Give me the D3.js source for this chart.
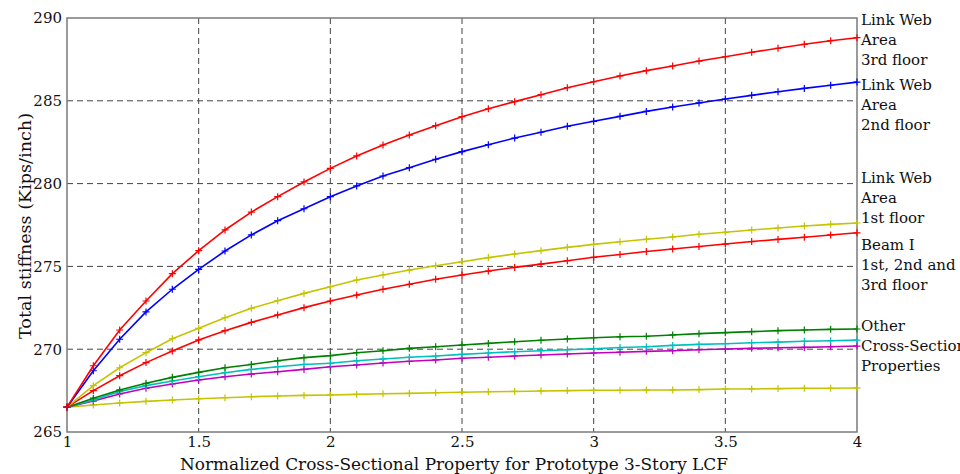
<!DOCTYPE html>
<html><head><meta charset="utf-8">
<script src="https://cdn.jsdelivr.net/npm/d3@7"></script>
<style>body{margin:0;background:#fff;overflow:hidden}svg{display:block}</style>
</head><body><svg id="c" width="960" height="474"></svg>
<script>
const xValues = [1,1.1,1.2,1.3,1.4,1.5,1.6,1.7,1.8,1.9,2,2.1,2.2,2.3,2.4,2.5,2.6,2.7,2.8,2.9,3,3.1,3.2,3.3,3.4,3.5,3.6,3.7,3.8,3.9,4];
const linkWeb3 = [266.5,269.0,271.16,272.91,274.56,275.95,277.2,278.28,279.21,280.1,280.92,281.67,282.33,282.93,283.5,284.04,284.52,284.95,285.37,285.79,286.15,286.5,286.82,287.1,287.4,287.66,287.93,288.17,288.41,288.63,288.81];
const linkWeb2 = [266.5,268.7,270.6,272.25,273.62,274.82,275.93,276.9,277.76,278.48,279.21,279.86,280.46,280.96,281.47,281.93,282.35,282.75,283.1,283.46,283.76,284.06,284.36,284.63,284.87,285.11,285.33,285.55,285.75,285.94,286.13];
const linkWeb1 = [266.5,267.8,268.88,269.79,270.63,271.26,271.9,272.47,272.93,273.37,273.77,274.18,274.48,274.78,275.04,275.28,275.53,275.75,275.95,276.15,276.33,276.49,276.64,276.78,276.94,277.06,277.2,277.32,277.44,277.54,277.62];
const beamI = [266.5,267.5,268.4,269.19,269.89,270.56,271.12,271.62,272.07,272.51,272.91,273.27,273.62,273.92,274.22,274.48,274.72,274.94,275.14,275.34,275.55,275.72,275.9,276.05,276.2,276.35,276.5,276.63,276.76,276.9,277.03];
const otherGreen = [266.5,267.04,267.54,267.94,268.3,268.6,268.88,269.08,269.3,269.49,269.61,269.79,269.91,270.05,270.15,270.25,270.35,270.45,270.54,270.62,270.69,270.75,270.78,270.86,270.94,271.0,271.06,271.12,271.16,271.2,271.22];
const otherCyan = [266.5,266.93,267.44,267.8,268.08,268.34,268.58,268.78,268.94,269.08,269.15,269.3,269.41,269.51,269.59,269.69,269.77,269.85,269.91,269.97,270.03,270.1,270.15,270.23,270.29,270.33,270.39,270.43,270.48,270.51,270.55];
const otherMagenta = [266.5,266.87,267.3,267.64,267.9,268.14,268.34,268.5,268.64,268.78,268.94,269.05,269.17,269.27,269.35,269.45,269.51,269.59,269.65,269.71,269.77,269.82,269.87,269.91,269.97,270.01,270.05,270.09,270.11,270.15,270.19];
const otherYellow = [266.5,266.63,266.75,266.85,266.93,267.01,267.07,267.13,267.17,267.21,267.23,267.27,267.31,267.33,267.37,267.4,267.43,267.45,267.48,267.5,267.52,267.52,267.54,267.54,267.56,267.6,267.6,267.62,267.64,267.64,267.66];

const seriesNames = ["otherYellow","otherMagenta","otherCyan","otherGreen","beamI","linkWeb1","linkWeb2","linkWeb3"];
const seriesValues = [otherYellow,otherMagenta,otherCyan,otherGreen,beamI,linkWeb1,linkWeb2,linkWeb3];
const seriesColors = ["#c4c400","#bf00bf","#00bfbf","#008000","#ff0000","#c4c400","#0000ff","#ff0000"];

const xTicks = [1,1.5,2,2.5,3,3.5,4];
const xTickLabels = ["1","1.5","2","2.5","3","3.5","4"];
const yTicks = [265,270,275,280,285,290];
const yTickLabels = ["265","270","275","280","285","290"];

const annotations = [
  {lines:["Link Web","Area","3rd floor"], y:25},
  {lines:["Link Web","Area","2nd floor"], y:90},
  {lines:["Link Web","Area","1st floor"], y:183},
  {lines:["Beam I","1st, 2nd and","3rd floor"], y:250},
  {lines:["Other","Cross-Sectional","Properties"], y:331}
];

const xLabel = "Normalized Cross-Sectional Property for Prototype 3-Story LCF";
const yLabel = "Total stiffness (Kips/inch)";

const svg = d3.select("#c");
const L = 67, R = 857, T = 18, B = 432;
const x = d3.scaleLinear().domain([1,4]).range([L,R]);
const y = d3.scaleLinear().domain([265,290]).range([B,T]);
const font = "'DejaVu Serif', serif";

// grid
const g = svg.append("g");
g.selectAll(".vg").data(xTicks.slice(1,-1)).join("line")
  .attr("x1",d=>x(d)).attr("x2",d=>x(d)).attr("y1",T).attr("y2",B)
  .attr("stroke","#444").attr("stroke-width",1).attr("stroke-dasharray","6,4");
g.selectAll(".hg").data(yTicks.slice(1,-1)).join("line")
  .attr("x1",L).attr("x2",R).attr("y1",d=>y(d)).attr("y2",d=>y(d))
  .attr("stroke","#444").attr("stroke-width",1).attr("stroke-dasharray","6,4");

// axes via d3
const xAxis = d3.axisBottom(x).tickValues(xTicks).tickFormat((d,i)=>xTickLabels[i]).tickSize(0).tickPadding(4);
const yAxis = d3.axisLeft(y).tickValues(yTicks).tickFormat((d,i)=>yTickLabels[i]).tickSize(0).tickPadding(5);
const gx = svg.append("g").attr("transform",`translate(0,${B})`).call(xAxis);
const gy = svg.append("g").attr("transform",`translate(${L},0)`).call(yAxis);
[gx,gy].forEach(a=>{
  a.select(".domain").remove();
  a.selectAll("text").attr("font-family",font).attr("font-size",15).attr("fill","#111");
});
gx.selectAll("text").attr("dy","0.71em");

// frame
svg.append("rect").attr("x",L).attr("y",T).attr("width",R-L).attr("height",B-T)
  .attr("fill","none").attr("stroke","#7a7a7a").attr("stroke-width",1.5);

// series
const line = d3.line().x((d,i)=>x(xValues[i])).y(d=>y(d));
seriesValues.forEach((vals,k)=>{
  const c = seriesColors[k];
  svg.append("path").datum(vals).attr("d",line).attr("fill","none")
    .attr("stroke",c).attr("stroke-width",1.6);
  const m = svg.append("g");
  m.selectAll("path").data(vals).join("path")
    .attr("d",(d,i)=>{const px=x(xValues[i]), py=y(d); return `M${px-3.5},${py}H${px+3.5}M${px},${py-3.5}V${py+3.5}`;})
    .attr("stroke",c).attr("stroke-width",1.2);
});

// annotations
annotations.forEach(a=>{
  const t = svg.append("text").attr("font-family",font).attr("font-size",15).attr("fill","#111");
  a.lines.forEach((s,i)=>{
    t.append("tspan").attr("x",861).attr("y",a.y+i*20).text(s);
  });
});

// axis labels
svg.append("text").attr("x",(L+R)/2-8).attr("y",470).attr("text-anchor","middle")
  .attr("font-family",font).attr("font-size",16).attr("fill","#111")
  .attr("textLength",548).attr("lengthAdjust","spacingAndGlyphs").text(xLabel);
svg.append("text").attr("transform","translate(31,226) rotate(-90)").attr("text-anchor","middle")
  .attr("font-family",font).attr("font-size",16).attr("fill","#111")
  .attr("textLength",226).attr("lengthAdjust","spacingAndGlyphs").text(yLabel);
</script></body></html>
